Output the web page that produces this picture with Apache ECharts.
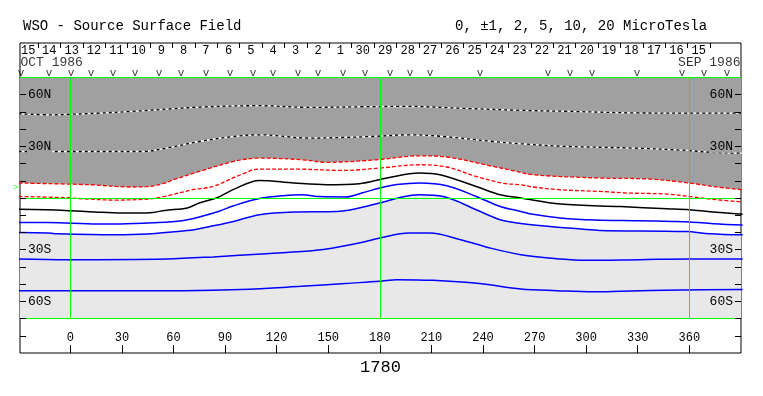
<!DOCTYPE html>
<html><head><meta charset="utf-8">
<script src="https://cdn.jsdelivr.net/npm/echarts@6/dist/echarts.min.js"></script>
<style>html,body{margin:0;padding:0;background:#fff}#c{width:763px;height:396px}</style>
</head><body><div id="c"></div>
<script>
const FONT = 'Liberation Mono';
// axes
const lonTicks = [0, 30, 60, 90, 120, 150, 180, 210, 240, 270, 300, 330, 360];
const latTicks = [-80, -70, -60, -50, -40, -30, -20, -10, 0, 10, 20, 30, 40, 50, 60];
const latLabels = [60, 30, -30, -60];
const rotation = '1780';
// header: day separators, day labels (left to right), observation marks
const daySeps = [-18.78, -5.75, 7.28, 20.30, 33.33, 46.36, 59.38, 72.41, 85.44, 98.46, 111.49, 124.52, 137.54, 150.57, 163.60, 176.62, 189.65, 202.68, 215.71, 228.73, 241.76, 254.79, 267.81, 280.84, 293.87, 306.89, 319.92, 332.95, 345.97, 359.00, 372.03];
const dayCenters = [-24.5, -12.3, 0.8, 13.8, 26.8, 39.8, 52.9, 65.9, 78.9, 92.0, 105.0, 118.0, 131.0, 144.1, 157.1, 170.1, 183.1, 196.2, 209.2, 222.2, 235.2, 248.3, 261.3, 274.3, 287.4, 300.4, 313.4, 326.4, 339.5, 352.5, 365.5];
const dayNames = ['15','14','13','12','11','10','9','8','7','6','5','4','3','2','1','30','29','28','27','26','25','24','23','22','21','20','19','18','17','16','15'];
const obsLon = [-28.7, -12.4, 0.4, 12.0, 24.8, 37.6, 51.6, 64.4, 78.9, 92.9, 106.3, 117.9, 132.5, 144.1, 158.6, 171.4, 185.9, 197.6, 209.2, 238.3, 277.8, 290.6, 303.4, 329.6, 355.8, 368.6, 382.0];
const earthLat = 6.2;
// contours [longitude, latitude]
const cP10 = [[-30,48.9],[-10,48.3],[0,48.6],[17,49.3],[36,50.3],[56,51.6],[75,52.8],[110,53.6],[139,52.6],[170,53.0],[195,53.2],[230,52.0],[262,50.9],[290,50.3],[330,49.4],[360,49.3],[391,49.3]];
const cP5 = [[-30,27.0],[-10,27.0],[42,27.0],[56,29.0],[75,32.8],[95,35.7],[110,36.7],[139,34.8],[175,35.7],[198,36.7],[217,35.7],[246,32.8],[262,31.5],[287,30.0],[327,29.0],[359,27.6],[373,26.5],[391,26.0]];
const cP2 = [[-30,8.7],[11.5,7.7],[35,6.4],[45,6.6],[55,8.7],[60,10.6],[75,15.4],[95,21.2],[110,23.2],[135,22.2],[149,20.7],[178,22.2],[203,24.5],[219,23.8],[246,18.3],[258,15.8],[269,13.5],[308,11.6],[337,11.0],[360,8.7],[376,6.4],[391,4.8]];
const cP1 = [[-30,0.9],[-3,0.2],[10,-0.6],[26,-1.2],[45,-0.6],[55,0.9],[71,4.8],[83,6.7],[99,13.5],[110,16.8],[130,16.8],[159,16.0],[180,17.4],[203,19.3],[219,18.0],[236,12.5],[252,8.5],[262,7.7],[269,6.4],[285,4.8],[308,3.8],[324,2.9],[347,2.3],[360,0.9],[376,-1.0],[391,-2.3]];
const c0 = [[-30,-6.6],[-3,-7.2],[14,-8.1],[30,-8.7],[39,-8.7],[48,-8.4],[55,-7.2],[68,-5.8],[75,-2.9],[85,0.0],[95,5.0],[110,10.2],[130,8.7],[149,7.7],[168,8.3],[184,11.6],[203,14.5],[215,13.5],[236,6.7],[250,1.9],[262,0.0],[285,-3.5],[320,-5.0],[347,-6.2],[360,-6.8],[372,-8.0],[391,-9.4]];
const cN1 = [[-30,-14.2],[-13,-14.2],[16,-15.1],[29,-15.1],[49,-14.4],[65,-13.2],[75,-11.0],[87,-7.5],[95,-4.5],[110,-0.3],[125,1.5],[135,1.9],[145,0.8],[160,0.6],[170,3.0],[180,5.8],[190,7.8],[203,8.7],[219,7.1],[236,0.9],[250,-4.9],[262,-7.8],[269,-9.5],[285,-11.6],[305,-12.8],[330,-13.2],[350,-13.6],[360,-13.9],[374,-14.9],[391,-15.7]];
const cN2 = [[-30,-20.0],[-13,-20.3],[-9,-20.7],[26,-21.3],[45,-20.9],[59,-19.7],[72,-18.4],[80,-16.8],[95,-13.6],[110,-9.7],[130,-8.1],[155,-7.8],[180,-2.9],[193,0.6],[203,1.9],[217,0.9],[236,-6.8],[250,-12.6],[260,-14.5],[279,-16.5],[297,-18.0],[308,-18.8],[358,-19.5],[372,-20.7],[391,-21.4]];
const cN5 = [[-30,-35.4],[-2,-35.8],[56,-35.4],[83,-34.2],[114,-32.3],[143,-30.4],[168,-26.1],[180,-23.2],[197,-20.3],[209,-20.3],[227,-24.2],[244,-29.0],[262,-32.9],[285,-35.4],[300,-36.2],[331,-35.8],[360,-35.4],[391,-35.4]];
const cN10 = [[-30,-53.8],[30,-53.8],[66,-53.8],[99,-53.2],[134,-51.3],[160,-49.6],[180,-48.4],[190,-47.4],[211,-47.8],[238,-49.7],[262,-52.8],[283,-53.8],[304,-54.5],[320,-54.2],[355,-53.4],[391,-53.2]];

const DARK = '#a0a0a0', LIGHT = '#e8e8e8', GREEN = '#00ff00';
const SM = 0.35;
const chart = echarts.init(document.getElementById('c'), null, {renderer: 'canvas'});
const txt = (size) => ({fontFamily: FONT, fontSize: size, color: '#000', fontWeight: 'normal'});
function contour(data, color, type, width, z) {
  return {type: 'line', data, symbol: 'none', smooth: SM, z, silent: true,
    lineStyle: {color, width, type}, animation: false};
}
function textMarks(data, pos, label) {
  return {type: 'scatter', data, symbol: 'circle', symbolSize: 1, z: 6, silent: true, clip: false,
    itemStyle: {color: 'rgba(0,0,0,0)'},
    label: Object.assign({show: true, position: pos, distance: 0}, label)};
}
const option = {
  animation: false,
  title: [
    {text: 'WSO - Source Surface Field', left: 23, top: 19, padding: 0, textStyle: txt(14)},
    {text: '0, \u00b11, 2, 5, 10, 20 MicroTesla', left: 455, top: 19, padding: 0, textStyle: txt(14)}
  ],
  grid: {left: 20, right: 22, top: 43, bottom: 43, show: true, borderColor: '#000', borderWidth: 1, backgroundColor: '#fff'},
  xAxis: [
    {type: 'value', position: 'bottom', min: -29.25, max: 390.05,
      axisLine: {show: false, onZero: false}, splitLine: {show: false},
      axisTick: {show: true, inside: true, length: 8, customValues: lonTicks, lineStyle: {color: '#000'}},
      axisLabel: {show: true, inside: true, margin: 9, customValues: lonTicks, ...txt(12)},
      name: rotation, nameLocation: 'middle', nameGap: 5, nameTextStyle: txt(17)},
    {type: 'value', position: 'top', min: -29.25, max: 390.05,
      axisLine: {show: false, onZero: false}, splitLine: {show: false},
      axisTick: {show: true, inside: true, length: 5, customValues: daySeps, lineStyle: {color: '#000'}},
      axisLabel: {show: true, inside: true, margin: 2, customValues: dayCenters,
        formatter: (v) => { const i = dayCenters.indexOf(v); return i >= 0 ? dayNames[i] : ''; }, ...txt(12)}}
  ],
  yAxis: [0, 1].map(k => ({
    type: 'value', position: k ? 'right' : 'left', min: -90, max: 90, z: 10,
    axisLine: {show: false, onZero: false}, splitLine: {show: false},
    axisTick: {show: true, inside: true, length: 6, customValues: latTicks, lineStyle: {color: '#000'}},
    axisLabel: {show: true, inside: true, margin: 7, customValues: latLabels,
      formatter: (v) => v > 0 ? '{d|' + v + 'N}' : '{l|' + (-v) + 'S}',
      rich: {d: {...txt(13), backgroundColor: DARK, padding: [0, 1]}, l: {...txt(13), backgroundColor: LIGHT, padding: [0, 1]}}}
  })),
  series: [
    {type: 'line', data: cP2, symbol: 'none', smooth: SM, z: 1, silent: true, lineStyle: {width: 0, opacity: 0},
      areaStyle: {color: DARK, opacity: 1, origin: 70}},
    {type: 'line', data: cN2, symbol: 'none', smooth: SM, z: 1, silent: true, lineStyle: {width: 0, opacity: 0},
      areaStyle: {color: LIGHT, opacity: 1, origin: -70}},
    {type: 'line', data: [], z: 2, silent: true,
      markLine: {silent: true, symbol: 'none', label: {show: false}, animation: false,
        lineStyle: {color: GREEN, width: 1, type: 'solid'},
        data: [
          [{coord: [-29.25, 70]}, {coord: [390.05, 70]}],
          [{coord: [-29.25, -70]}, {coord: [390.05, -70]}],
          [{coord: [-29.25, 0]}, {coord: [390.05, 0]}],
          [{coord: [0, -70]}, {coord: [0, 70]}],
          [{coord: [180, -70]}, {coord: [180, 70]}],
          [{coord: [360, -70]}, {coord: [360, 70]}]
        ]}},
    contour(cP10, '#fff', 'solid', 1.3, 3),
    contour(cP10, '#000', [3, 3], 1.3, 4),
    contour(cP5, '#fff', 'solid', 1.3, 3),
    contour(cP5, '#000', [3, 3], 1.3, 4),
    contour(cP2, '#ff0000', [4, 2], 1.3, 4),
    contour(cP1, '#ff0000', [4, 2], 1.3, 4),
    contour(c0, '#000', 'solid', 1.5, 4),
    contour(cN1, '#0000ff', 'solid', 1.5, 4),
    contour(cN2, '#0000ff', 'solid', 1.5, 4),
    contour(cN5, '#0000ff', 'solid', 1.5, 4),
    contour(cN10, '#0000ff', 'solid', 1.5, 4),
    textMarks(obsLon.map(l => [l, 72.7]), 'inside', {formatter: 'v', ...txt(11)}),
    textMarks([[-29.25, 78.7, 'OCT 1986']], 'right', {formatter: (p) => p.data[2], ...txt(13)}),
    textMarks([[390.05, 78.7, 'SEP 1986']], 'left', {formatter: (p) => p.data[2], ...txt(13)}),
    textMarks([[-29.25, earthLat]], 'left', {formatter: '>', distance: 1, ...txt(9), color: GREEN})
  ]
};
chart.setOption(option);
</script></body></html>
